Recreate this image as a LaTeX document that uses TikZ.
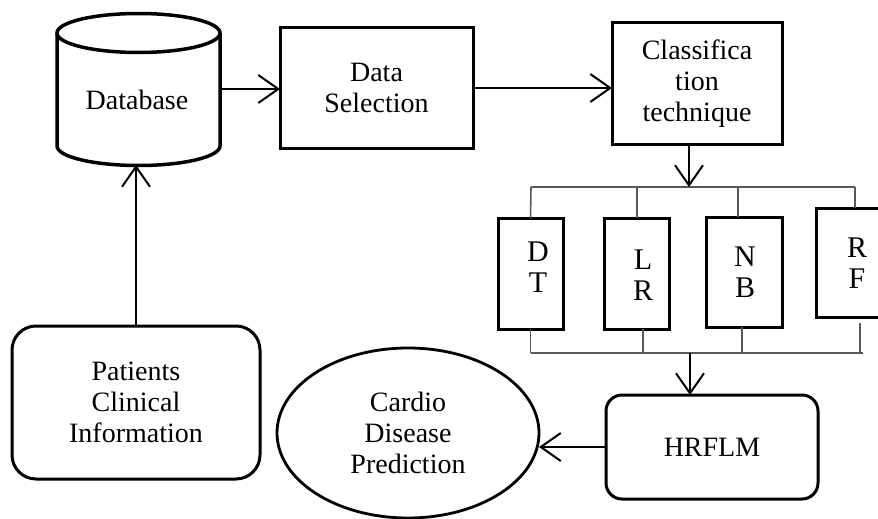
\documentclass[tikz,border=0pt]{standalone}
\usepackage{fontspec}
\setmainfont{Liberation Serif}
\usetikzlibrary{shapes.geometric,arrows.meta}
\begin{document}
\begin{tikzpicture}[x=1pt,y=-1pt,
  txt/.style={font=\fontsize{28}{31}\selectfont, align=center},
  ltr/.style={font=\fontsize{30}{31}\selectfont, align=center},
  boxthick/.style={draw, line width=3pt, inner sep=0pt, outer sep=0pt},
  rbox/.style={boxthick, rounded corners=18pt},
  arr/.style={draw, line width=2pt, -{Straight Barb[length=20pt,width=28pt,line width=2pt]}},
  bus/.style={draw=black!65, line width=1.6pt},
  ]
\useasboundingbox (0,0) rectangle (878,519);
% Database cylinder
\node[inner sep=0pt, outer sep=0pt, minimum width=163pt, minimum height=152pt] (DB) at (138.5,89) {};
\draw[line width=3.5pt] (138.5,33) ellipse [x radius=81.5pt, y radius=19.5pt];
\draw[line width=3.5pt] (57,33) -- (57,146) arc [start angle=180, end angle=360, x radius=81.5pt, y radius=19.5pt] -- (220,33);
\node[txt] (DBt) at (137,100) {Database};
% main boxes
\node[boxthick, minimum width=193pt, minimum height=120pt, txt] (DS) at (376.5,88) {Data\\Selection};
\node[boxthick, minimum width=170pt, minimum height=121pt, txt] (CT) at (697,83.5) {Classifica\\tion\\technique};
% classifier boxes
\node[boxthick, minimum width=65pt, minimum height=111pt] (DT) at (530.5,273.5) {};
\node[boxthick, minimum width=65pt, minimum height=111pt] (LR) at (636.5,273.5) {};
\node[boxthick, minimum width=76pt, minimum height=110pt] (NB) at (744,272) {};
\node[boxthick, minimum width=72pt, minimum height=109pt] (RF) at (852,262.5) {};
\node[ltr] (tDT) at (538,267.5) {D\\T};
\node[ltr] (tLR) at (643,275) {L\\R};
\node[ltr] (tNB) at (745,272) {N\\B};
\node[ltr] (tRF) at (857,263) {R\\F};
% bottom row
\node[rbox, minimum width=212pt, minimum height=104pt, rounded corners=16pt, txt] (HR) at (712,447) {HRFLM};
\node[ellipse, draw, line width=2.8pt, inner sep=0pt, outer sep=0pt, minimum width=262pt, minimum height=170pt, txt] (CDP) at (408,433) {Cardio\\Disease\\Prediction};
\node[rbox, minimum width=248pt, minimum height=153pt, rounded corners=24pt, txt] (PCI) at (136,402.5) {Patients\\Clinical\\Information};
% bus coordinates
\coordinate (bt) at (689,187);
\coordinate (btL) at (531,187);
\coordinate (btR) at (855,187);
\coordinate (bb) at (690,353);
\coordinate (bbL) at (531,353);
\coordinate (bbR) at (863,353);
% buses
\draw[bus] (btL) -- (btR);
\draw[bus] (btL) -- (DT.north);
\draw[bus] (637,187) -- (637,218);
\draw[bus] (738,187) -- (738,217);
\draw[bus] (btR) -- (btR |- RF.north);
\draw[bus] (bbL) -- (bbR);
\draw[bus] (DT.south) -- (DT.south |- bbL);
\draw[bus] (643,329) -- (643,353);
\draw[bus] (742,327) -- (742,353);
\draw[bus] (860,323) -- (860,353);
% arrows
\draw[arr] (DB.east) -- (DB.east -| DS.west);
\draw[arr] (DS.east) -- (DS.east -| CT.west);
\draw[arr] (CT.south -| bt) -- (bt);
\draw[arr] (bb) -- (bb |- HR.north);
\draw[arr] (HR.west) -- (HR.west -| CDP.east);
\draw[arr] (PCI.north) -- (PCI.north |- DB.south);
\end{tikzpicture}
\end{document}
